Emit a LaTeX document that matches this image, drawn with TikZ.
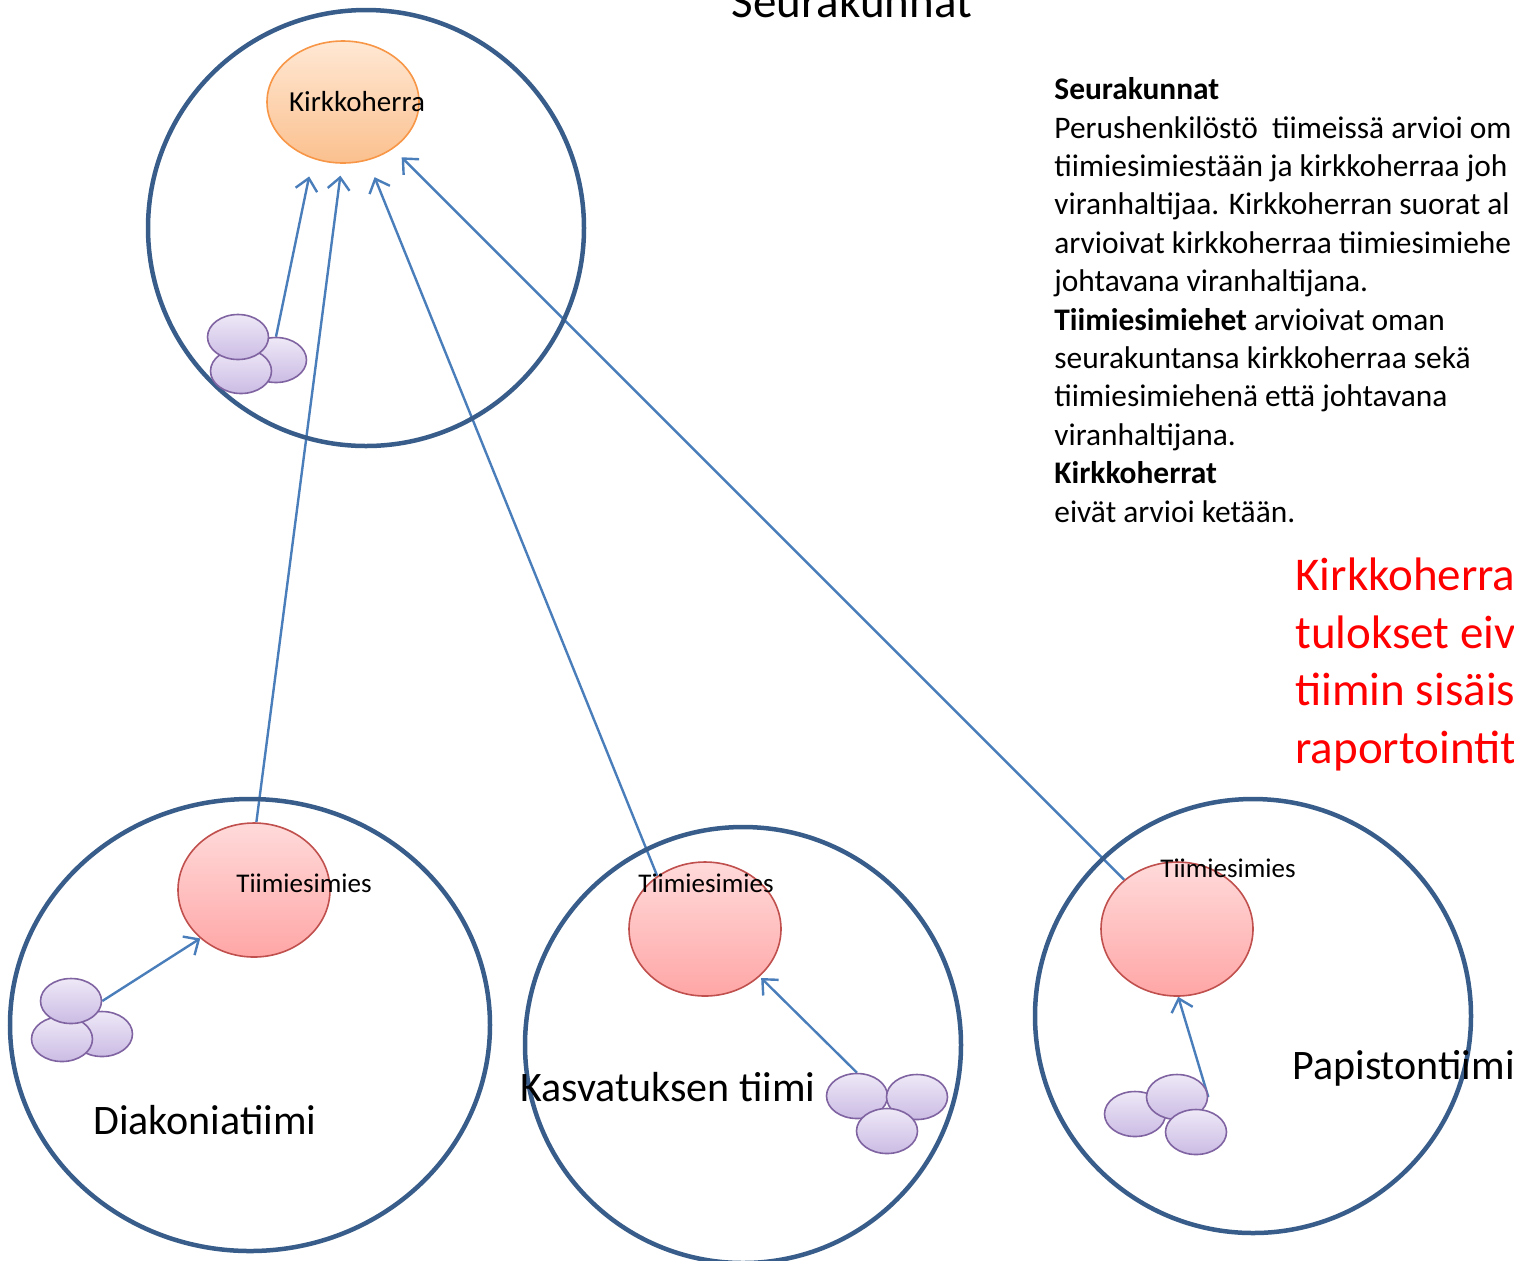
\documentclass[tikz,border=0pt]{standalone}
\usepackage{fontspec}
\setmainfont{Carlito}
\usetikzlibrary{arrows.meta,shapes.geometric}
\pgfdeclarelayer{edgelayer}
\pgfdeclarelayer{nodelayer}
\pgfsetlayers{edgelayer,nodelayer,main}
\definecolor{teamline}{RGB}{56,93,138}
\definecolor{rateline}{RGB}{74,126,187}
\definecolor{leadtop}{RGB}{255,232,212}
\definecolor{leadbot}{RGB}{251,192,142}
\definecolor{leaddraw}{RGB}{247,150,70}
\definecolor{headtop}{RGB}{255,218,218}
\definecolor{headbot}{RGB}{255,166,166}
\definecolor{headdraw}{RGB}{192,80,77}
\definecolor{memtop}{RGB}{238,232,247}
\definecolor{membot}{RGB}{203,187,228}
\definecolor{memdraw}{RGB}{128,100,162}
\tikzstyle{none}=[inner sep=0pt]
\tikzstyle{team}=[ellipse,draw=teamline,line width=2.25pt,inner sep=0pt]
\tikzstyle{lead}=[ellipse,draw=leaddraw,top color=leadtop,bottom color=leadbot,line width=0.8pt,minimum width=76pt,minimum height=61pt,inner sep=0pt]
\tikzstyle{head}=[ellipse,draw=headdraw,top color=headtop,bottom color=headbot,line width=0.8pt,minimum width=76pt,minimum height=67pt,inner sep=0pt]
\tikzstyle{member}=[ellipse,draw=memdraw,top color=memtop,bottom color=membot,line width=0.8pt,minimum width=30.5pt,minimum height=22.5pt,inner sep=0pt]
\tikzstyle{rates}=[-{Straight Barb[length=6pt,width=11pt]},draw=rateline,line width=1.2pt]
\tikzstyle{small}=[inner sep=0pt,font=\fontsize{13.5}{16}\selectfont]
\tikzstyle{big}=[inner sep=0pt,anchor=west,font=\fontsize{21}{25}\selectfont]

\begin{document}
\begin{tikzpicture}[x=0.5pt,y=-0.5pt]
	\useasboundingbox (0,0) rectangle (1514,1260);
	\clip (0,0) rectangle (1514,1260);
	\begin{pgfonlayer}{nodelayer}
		\node [style=team, minimum width=218pt, minimum height=218pt] (parish) at (366,228) {};
		\node [style=team, minimum width=240pt, minimum height=226pt] (diak) at (250,1025) {};
		\node [style=team, minimum width=218pt, minimum height=218pt] (kasv) at (743,1045) {};
		\node [style=team, minimum width=218pt, minimum height=217pt] (pap) at (1253,1016) {};
		\node [style=lead] (kirk) at (343,102) {};
		\node [style=head] (hd) at (254,890) {};
		\node [style=head] (hk) at (705,929) {};
		\node [style=head] (hp) at (1177,929) {};
		\node [style=member] (k1) at (276,360) {};
		\node [style=member] (k2) at (241,371) {};
		\node [style=member] (k3) at (238,337) {};
		\node [style=member] (d1) at (102,1034) {};
		\node [style=member] (d2) at (62,1039) {};
		\node [style=member] (d3) at (71,1001) {};
		\node [style=member] (v1) at (857,1096) {};
		\node [style=member] (v2) at (917,1097) {};
		\node [style=member] (v3) at (887,1131) {};
		\node [style=member] (p1) at (1135,1114) {};
		\node [style=member] (p2) at (1177,1097) {};
		\node [style=member] (p3) at (1196,1132) {};
		\node [style=small, font=\fontsize{14.5}{17}\selectfont] (kirkt) at (357,102) {Kirkkoherra};
		\node [style=small] (hdt) at (304,883) {Tiimiesimies};
		\node [style=small] (hkt) at (706,883) {Tiimiesimies};
		\node [style=small] (hpt) at (1228,868) {Tiimiesimies};
		\node [style=big] (diakt) at (93,1120) {Diakoniatiimi};
		\node [style=big] (kasvt) at (520,1087) {Kasvatuksen tiimi};
		\node [style=big] (papt) at (1292,1068) {Papistontiimi};
		\node [style=none, anchor=base, font=\fontsize{23.5}{28}\selectfont] (title) at (852,17) {Seurakunnat};
		% base of a multi-line node = its last line
		\node [style=none, anchor=base west, align=left, font=\fontsize{15.7}{19.2}\selectfont] (notes) at (1054,522) {\textbf{Seurakunnat}\\
			Perushenkilöstö~ tiimeissä arvioi om\\
			tiimiesimiestään ja kirkkoherraa joh\\
			viranhaltijaa. Kirkkoherran suorat al\\
			arvioivat kirkkoherraa tiimiesimiehe\\
			johtavana viranhaltijana.\\
			\textbf{Tiimiesimiehet} arvioivat oman\\
			seurakuntansa kirkkoherraa sekä\\
			tiimiesimiehenä että johtavana\\
			viranhaltijana.\\
			\textbf{Kirkkoherrat}\\
			eivät arvioi ketään.};
		\node [style=none, anchor=base west, align=left, text=red, font=\fontsize{23.5}{28.7}\selectfont] (warn) at (1295,763) {Kirkkoherra\\
			tulokset eiv\\
			tiimin sisäis\\
			raportointit};
	\end{pgfonlayer}
	\begin{pgfonlayer}{edgelayer}
		\draw [style=rates, shorten >=9pt] (k1.north) to (kirk.242);
		\draw [style=rates, shorten >=6pt] (hd.88) to (kirk.269);
		\draw [style=rates, shorten >=9pt] (hk.132) to (kirk.293);
		\draw [style=rates, shorten >=6pt] (hp.137) to (kirk.317);
		\draw [style=rates] (d3.east) to (hd.222);
		\draw [style=rates, shorten >=1pt] (v1.north) to (hk.319);
		\draw [style=rates] (p2.east) to (hp.-89);
	\end{pgfonlayer}
\end{tikzpicture}
\end{document}
